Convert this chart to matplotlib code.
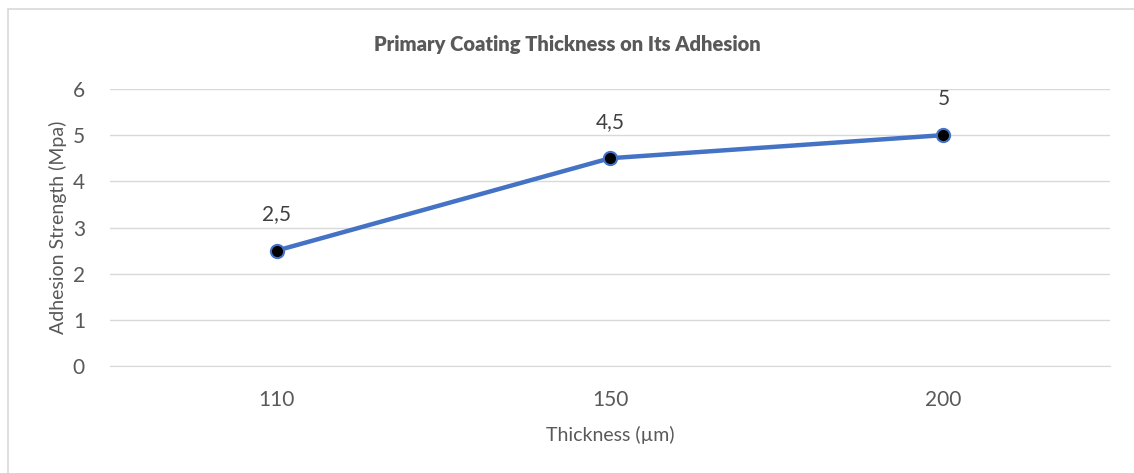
import matplotlib.pyplot as plt
from matplotlib.patches import Rectangle

plt.rcParams["font.family"] = ["Lato", "DejaVu Sans"]

thickness = ["110", "150", "200"]
adhesion = [2.5, 4.5, 5.0]
point_labels = ["2,5", "4,5", "5"]
y_ticks = [0, 1, 2, 3, 4, 5, 6]

TEXT = "#595959"
LINE = "#4472C4"

fig = plt.figure(figsize=(11.34, 4.73), dpi=100)
ax = fig.add_axes([0.097, 0.226, 0.882, 0.586])

# outer chart border (Excel style)
fig.patches.append(Rectangle((8 / 1134, -0.1), 1.2, 1 - 9 / 473 + 0.1,
                             transform=fig.transFigure, fill=False,
                             edgecolor="#d9d9d9", linewidth=1.2))

x = list(range(len(thickness)))
ax.plot(x, adhesion, color=LINE, linewidth=3.2, marker="o", markersize=9.5,
        markerfacecolor="black", markeredgecolor=LINE, markeredgewidth=1.5,
        zorder=3)

for xi, yi, lab in zip(x, adhesion, point_labels):
    ax.annotate(lab, (xi, yi), xytext=(0, 19), textcoords="offset points",
                ha="center", va="bottom", fontsize=15, color="#404040")

ax.set_xlim(-0.5, 2.5)
ax.set_ylim(0, 6)
ax.set_xticks(x)
ax.set_xticklabels(thickness)
ax.set_yticks(y_ticks)
ax.grid(axis="y", color="#d9d9d9", linewidth=1)
ax.set_axisbelow(True)
for side in ["top", "right", "left"]:
    ax.spines[side].set_visible(False)
ax.spines["bottom"].set_color("#d9d9d9")
ax.tick_params(length=0, colors=TEXT, labelsize=15)
ax.tick_params(axis="x", pad=17)
ax.tick_params(axis="y", pad=18)

ax.set_xlabel("Thickness (µm)", fontsize=14, color=TEXT, labelpad=12)
ax.set_ylabel("Adhesion Strength (Mpa)", fontsize=14, color=TEXT, labelpad=4)
fig.text(0.5, 1 - 44 / 473, "Primary Coating Thickness on Its Adhesion",
         ha="center", va="center", fontsize=14.5, fontweight="heavy", color=TEXT)

fig.savefig("out.png", dpi=100)
